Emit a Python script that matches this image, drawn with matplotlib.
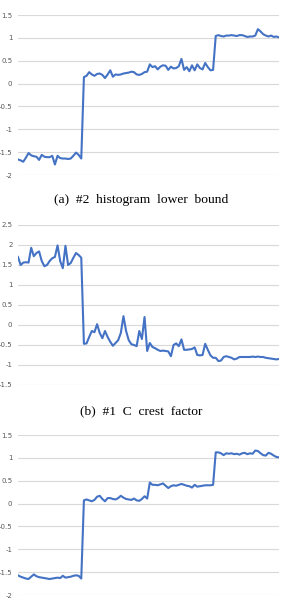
import matplotlib.pyplot as plt
import numpy as np

# panel (a) #2 histogram lower bound
lower_bound = [
    -1.66, -1.68, -1.71, -1.62, -1.52, -1.57, -1.59, -1.6, -1.67, -1.56,
    -1.6, -1.61, -1.61, -1.58, -1.77, -1.58, -1.63, -1.64, -1.64, -1.65,
    -1.64, -1.58, -1.51, -1.56, -1.64,
    0.14, 0.17, 0.25, 0.2, 0.17, 0.21, 0.22, 0.19, 0.12, 0.2,
    0.29, 0.15, 0.2, 0.19, 0.2, 0.22, 0.23, 0.24, 0.26, 0.25,
    0.2, 0.19, 0.21, 0.25, 0.26, 0.42, 0.36, 0.38, 0.31, 0.37,
    0.4, 0.39, 0.3, 0.37, 0.33, 0.34, 0.38, 0.54, 0.3, 0.36,
    0.27, 0.4, 0.29, 0.42, 0.34, 0.31, 0.45, 0.36, 0.29, 0.3,
    1.04, 1.06, 1.04, 1.03, 1.05, 1.05, 1.06, 1.05, 1.04, 1.06,
    1.06, 1.04, 1.02, 1.03, 1.03, 1.05, 1.19, 1.14, 1.08, 1.05,
    1.03, 1.05, 1.02, 1.03, 1.01,
]

# panel (b) #1 C crest factor
crest_factor = [
    1.7, 1.5, 1.56, 1.57, 1.56, 1.93, 1.72, 1.8, 1.84, 1.6,
    1.47, 1.5, 1.6, 1.67, 1.7, 1.99, 1.6, 1.42, 1.98, 1.5,
    1.55, 1.68, 1.8, 1.75, 1.68,
    -0.47, -0.46, -0.3, -0.15, -0.18, 0.02, -0.2, -0.33, -0.15, -0.3,
    -0.42, -0.52, -0.45, -0.38, -0.2, 0.22, -0.15, -0.38, -0.48, -0.5,
    -0.53, -0.15, -0.35, 0.2, -0.65, -0.45, -0.55, -0.58, -0.62, -0.65,
    -0.64, -0.65, -0.66, -0.78, -0.5, -0.46, -0.53, -0.36, -0.62, -0.62,
    -0.61, -0.6, -0.56, -0.75, -0.76, -0.75, -0.47, -0.62, -0.76, -0.82,
    -0.82, -0.9, -0.89, -0.8, -0.78, -0.8, -0.82, -0.86, -0.84, -0.8,
    -0.8, -0.8, -0.8, -0.8, -0.79, -0.8, -0.79, -0.8, -0.8, -0.82,
    -0.83, -0.84, -0.85, -0.86, -0.85,
]

# panel (c) no caption visible
third_feature = [
    -1.57, -1.6, -1.62, -1.64, -1.65, -1.6, -1.55, -1.59, -1.61, -1.62,
    -1.63, -1.64, -1.65, -1.64, -1.63, -1.62, -1.63, -1.58, -1.62, -1.61,
    -1.6, -1.58, -1.57, -1.58, -1.64,
    0.07, 0.09, 0.07, 0.05, 0.08, 0.15, 0.17, 0.1, 0.05, 0.12,
    0.12, 0.1, 0.09, 0.12, 0.17, 0.13, 0.1, 0.09, 0.08, 0.11,
    0.07, 0.06, 0.1, 0.16, 0.11,
    0.46, 0.41, 0.41, 0.4, 0.42, 0.44, 0.39, 0.34, 0.38, 0.4,
    0.39, 0.41, 0.43, 0.41, 0.39, 0.38, 0.35, 0.41, 0.37, 0.38,
    0.39, 0.4, 0.4, 0.4, 0.41,
    1.12, 1.12, 1.1, 1.06, 1.1, 1.09, 1.1, 1.08, 1.09, 1.07,
    1.1, 1.11, 1.08, 1.1, 1.09, 1.16, 1.15, 1.1, 1.06, 1.05,
    1.11, 1.09, 1.05, 1.02, 1.01,
]

ticks_a = [-2, -1.5, -1, -0.5, 0, 0.5, 1, 1.5]
ticks_b = [-1.5, -1, -0.5, 0, 0.5, 1, 1.5, 2, 2.5]
ticks_c = ticks_a

captions = ["(a)  #2  histogram  lower  bound", "(b)  #1  C  crest  factor"]

line_color = "#4472C4"
grid_color = "#d9d9d9"
label_color = "#595959"


def draw(ax, values, ticks):
    xs = np.arange(len(values))
    ax.plot(xs, values, color=line_color, linewidth=1.5, solid_joinstyle="round")
    ax.set_xlim(0, len(values) - 1)
    ax.set_ylim(ticks[0], ticks[-1])
    ax.set_yticks(ticks)
    ax.set_yticklabels(["%g" % t for t in ticks])
    ax.set_xticks([])
    for t in ticks:
        ax.axhline(t, color=grid_color, linewidth=0.8, zorder=0)
    for s in ax.spines.values():
        s.set_visible(False)
    ax.tick_params(axis="y", length=0, pad=4, labelsize=5, labelcolor=label_color)


fig = plt.figure(figsize=(2.82, 6.14), dpi=100)
left, width, height = 18 / 282, 261 / 282, 160 / 614

ax1 = fig.add_axes([left, 1 - 175 / 614, width, height])
draw(ax1, lower_bound, ticks_a)

ax2 = fig.add_axes([left, 1 - 385 / 614, width, height])
draw(ax2, crest_factor, ticks_b)

ax3 = fig.add_axes([left, 1 - 595 / 614, width, height])
draw(ax3, third_feature, ticks_c)

fig.text(141 / 282, 1 - 200 / 614, captions[0], ha="center", va="center",
         family="Liberation Serif", fontsize=9.7)
fig.text(141 / 282, 1 - 411 / 614, captions[1], ha="center", va="center",
         family="Liberation Serif", fontsize=9.7)

fig.savefig("out.png", dpi=100)
